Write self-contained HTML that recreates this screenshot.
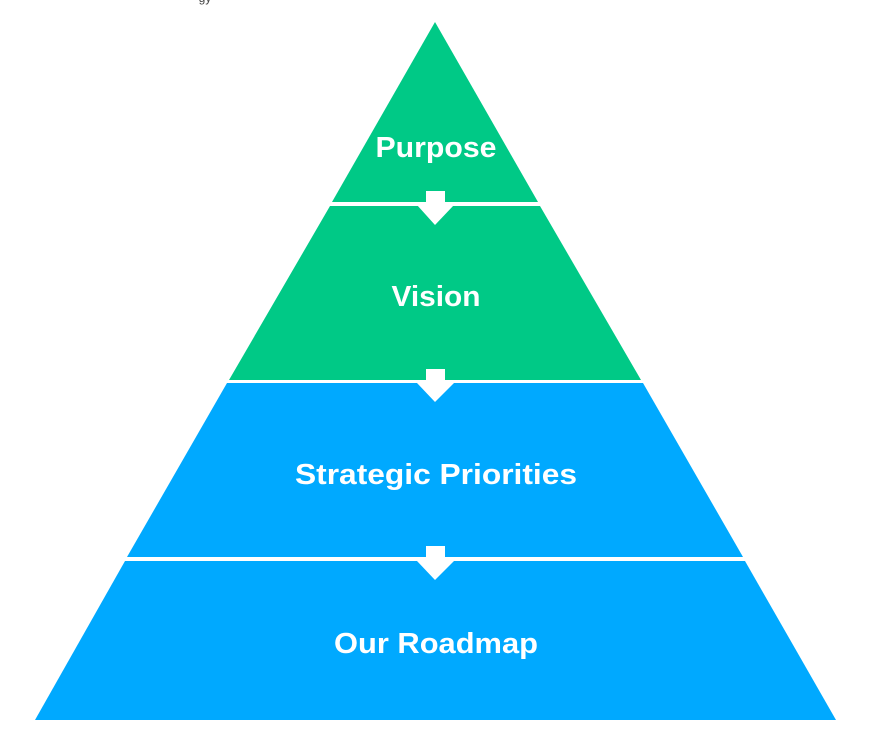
<!DOCTYPE html>
<html><head><style>
html,body{margin:0;padding:0;background:#fff;width:872px;height:755px;overflow:hidden}
svg text{font-family:"Liberation Sans",sans-serif;font-weight:bold;fill:#fff;text-anchor:middle}
</style></head><body>
<svg width="872" height="755" viewBox="0 0 872 755">
<text x="205" y="2" style="fill:#444;font-size:12px;font-weight:normal">gy</text>
<polygon points="435,22 538,202 332,202" fill="#00C986"/>
<polygon points="330,206 540,206 641,380 229,380" fill="#00C986"/>
<polygon points="227,383 643,383 743,557 127,557" fill="#00A9FF"/>
<polygon points="125,561 745,561 836,720 35,720" fill="#00A9FF"/>
<g fill="#fff">
<rect x="426" y="191" width="19" height="15"/><polygon points="417,205 454,205 435,225"/>
<rect x="426" y="369" width="19" height="15"/><polygon points="417,383 454,383 435,402"/>
<rect x="426" y="546" width="19" height="15"/><polygon points="417,561 454,561 435,580"/>
</g>
<text x="436" y="157" font-size="29" textLength="121" lengthAdjust="spacingAndGlyphs">Purpose</text>
<text x="436" y="306" font-size="29" textLength="89" lengthAdjust="spacingAndGlyphs">Vision</text>
<text x="436" y="484" font-size="29" textLength="282" lengthAdjust="spacingAndGlyphs">Strategic Priorities</text>
<text x="436" y="653" font-size="29" textLength="204" lengthAdjust="spacingAndGlyphs">Our Roadmap</text>
</svg>
</body></html>
